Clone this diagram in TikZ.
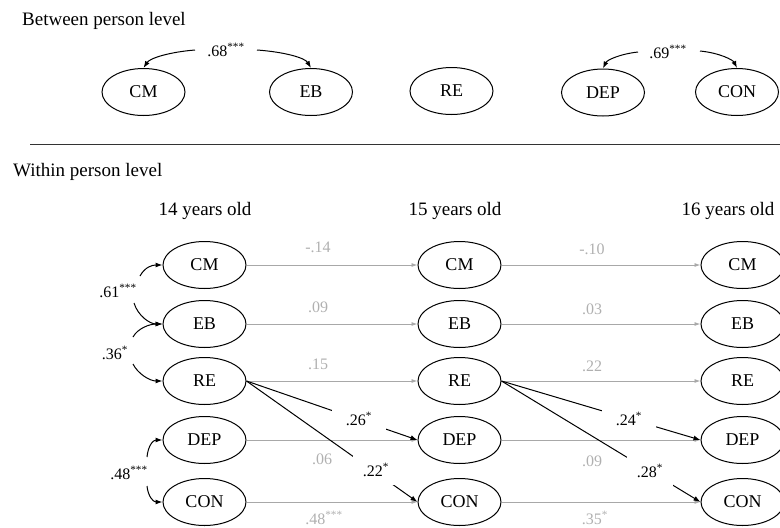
\documentclass[tikz,border=0pt]{standalone}
\usepackage{fontspec}
\setmainfont{Liberation Serif}
\usetikzlibrary{shapes.geometric,arrows.meta}
\definecolor{gline}{HTML}{A8A8A8}
\definecolor{gtext}{HTML}{B0B0B0}
\begin{document}
\begin{tikzpicture}[x=1pt,y=-1pt,
  var/.style={ellipse,draw,line width=1pt,minimum width=83pt,minimum height=47pt,inner sep=0pt,font=\fontsize{18}{20}\selectfont},
  ttl/.style={font=\fontsize{19}{22}\selectfont,inner sep=0pt},
  glab/.style={font=\fontsize{16}{18}\selectfont,text=gtext,inner sep=1pt},
  blab/.style={font=\fontsize{16}{18}\selectfont,inner sep=1pt},
  gap/.style={fill=white},
  garr/.style={draw=gline,line width=0.9pt,-{Latex[length=6pt,width=4pt]}},
  barr/.style={draw=black,line width=1pt,-{Latex[length=7pt,width=5pt]}},
]
\useasboundingbox (0,0) rectangle (780,528);

% ---------- Between person level ----------
\node[ttl,anchor=base west] (tb) at (22,25) {Between person level};
\node[var] (CMb) at (143.5,92) {CM};
\node[var] (EBb) at (311,92) {EB};
\node[var] (REb) at (451.5,91) {RE};
\node[var] (DEPb) at (603,92.5) {DEP};
\node[var] (CONb) at (737,92) {CON};

\node[blab] (l68) at (226,50) {.68\textsuperscript{***}};
\node[blab] (l69) at (668,52) {.69\textsuperscript{***}};
\coordinate (c68a) at (195,50);
\coordinate (c68b) at (257,50);
\coordinate (c69a) at (638,52);
\coordinate (c69b) at (700,51);
\draw[barr] (c68a) .. controls (170,52) and (150,58) .. (CMb.north);
\draw[barr] (c68b) .. controls (285,52) and (305,58) .. (EBb.north);
\draw[barr] (c69a) .. controls (620,54) and (607,60) .. (DEPb.north);
\draw[barr] (c69b) .. controls (720,53) and (733,60) .. (CONb.north);

\coordinate (r1) at (30,144);
\coordinate (r2) at (780,144);
\draw[line width=1pt,black!80] (r1) -- (r2);

% ---------- Within person level ----------
\node[ttl,anchor=base west] (tw) at (13,176) {Within person level};
\node[ttl,anchor=base] (t14) at (205,215) {14 years old};
\node[ttl,anchor=base] (t15) at (455,215) {15 years old};
\node[ttl,anchor=base] (t16) at (728,215) {16 years old};

\foreach \c/\x in {1/204.5,2/459.5,3/742.5}{
  \node[var] (CM\c) at (\x,265) {CM};
  \node[var] (EB\c) at (\x,324) {EB};
  \node[var] (RE\c) at (\x,381) {RE};
  \node[var] (DEP\c) at (\x,440) {DEP};
  \node[var] (CON\c) at (\x,502) {CON};
}

% autoregressive paths (grey)
\foreach \v in {CM,EB,RE,DEP,CON}{
  \draw[garr] (\v1.east) -- (\v2.west);
  \draw[garr] (\v2.east) -- (\v3.west);
}
\node[glab] (g1) at (318,247) {-.14};
\node[glab] (g2) at (318,307) {.09};
\node[glab] (g3) at (318,364) {.15};
\node[glab] (g4) at (322,459) {.06};
\node[glab] (g5) at (324,518) {.48\textsuperscript{***}};
\node[glab] (h1) at (592,249) {-.10};
\node[glab] (h2) at (592,309) {.03};
\node[glab] (h3) at (592,366) {.22};
\node[glab] (h4) at (592,461) {.09};
\node[glab] (h5) at (595,518) {.35\textsuperscript{*}};

% cross-lagged paths (black)
\draw[barr] (RE1.east) -- (DEP2.west);
\draw[barr] (RE1.east) -- (CON2.west);
\draw[barr] (RE2.east) -- (DEP3.west);
\draw[barr] (RE2.east) -- (CON3.west);
\node[blab,gap,minimum width=54pt,minimum height=22pt] (b26) at (359,419) {.26\textsuperscript{*}};
\node[blab,gap,minimum width=46pt,minimum height=30pt] (b22) at (376,470) {.22\textsuperscript{*}};
\node[blab,gap,minimum width=54pt,minimum height=22pt] (b24) at (629,419) {.24\textsuperscript{*}};
\node[blab,gap,minimum width=46pt,minimum height=30pt] (b28) at (650,471) {.28\textsuperscript{*}};

% within-time correlations at age 14
\node[blab] (w61) at (118,291) {.61\textsuperscript{***}};
\node[blab] (w36) at (115,353) {.36\textsuperscript{*}};
\node[blab] (w48) at (129,473) {.48\textsuperscript{***}};
\coordinate (k1) at (140,276);
\coordinate (k2) at (134,303);
\coordinate (k3) at (133,337);
\coordinate (k4) at (133,364);
\coordinate (k5) at (147,457);
\coordinate (k6) at (147,486);
\draw[barr] (k1) .. controls (145,267) and (152,265) .. (CM1.west);
\draw[barr] (k2) .. controls (138,316) and (150,324) .. (EB1.west);
\draw[barr] (k3) .. controls (138,328) and (150,324) .. (EB1.west);
\draw[barr] (k4) .. controls (138,374) and (150,381) .. (RE1.west);
\draw[barr] (k5) .. controls (148,446) and (153,440) .. (DEP1.west);
\draw[barr] (k6) .. controls (148,496) and (153,502) .. (CON1.west);
\end{tikzpicture}
\end{document}
